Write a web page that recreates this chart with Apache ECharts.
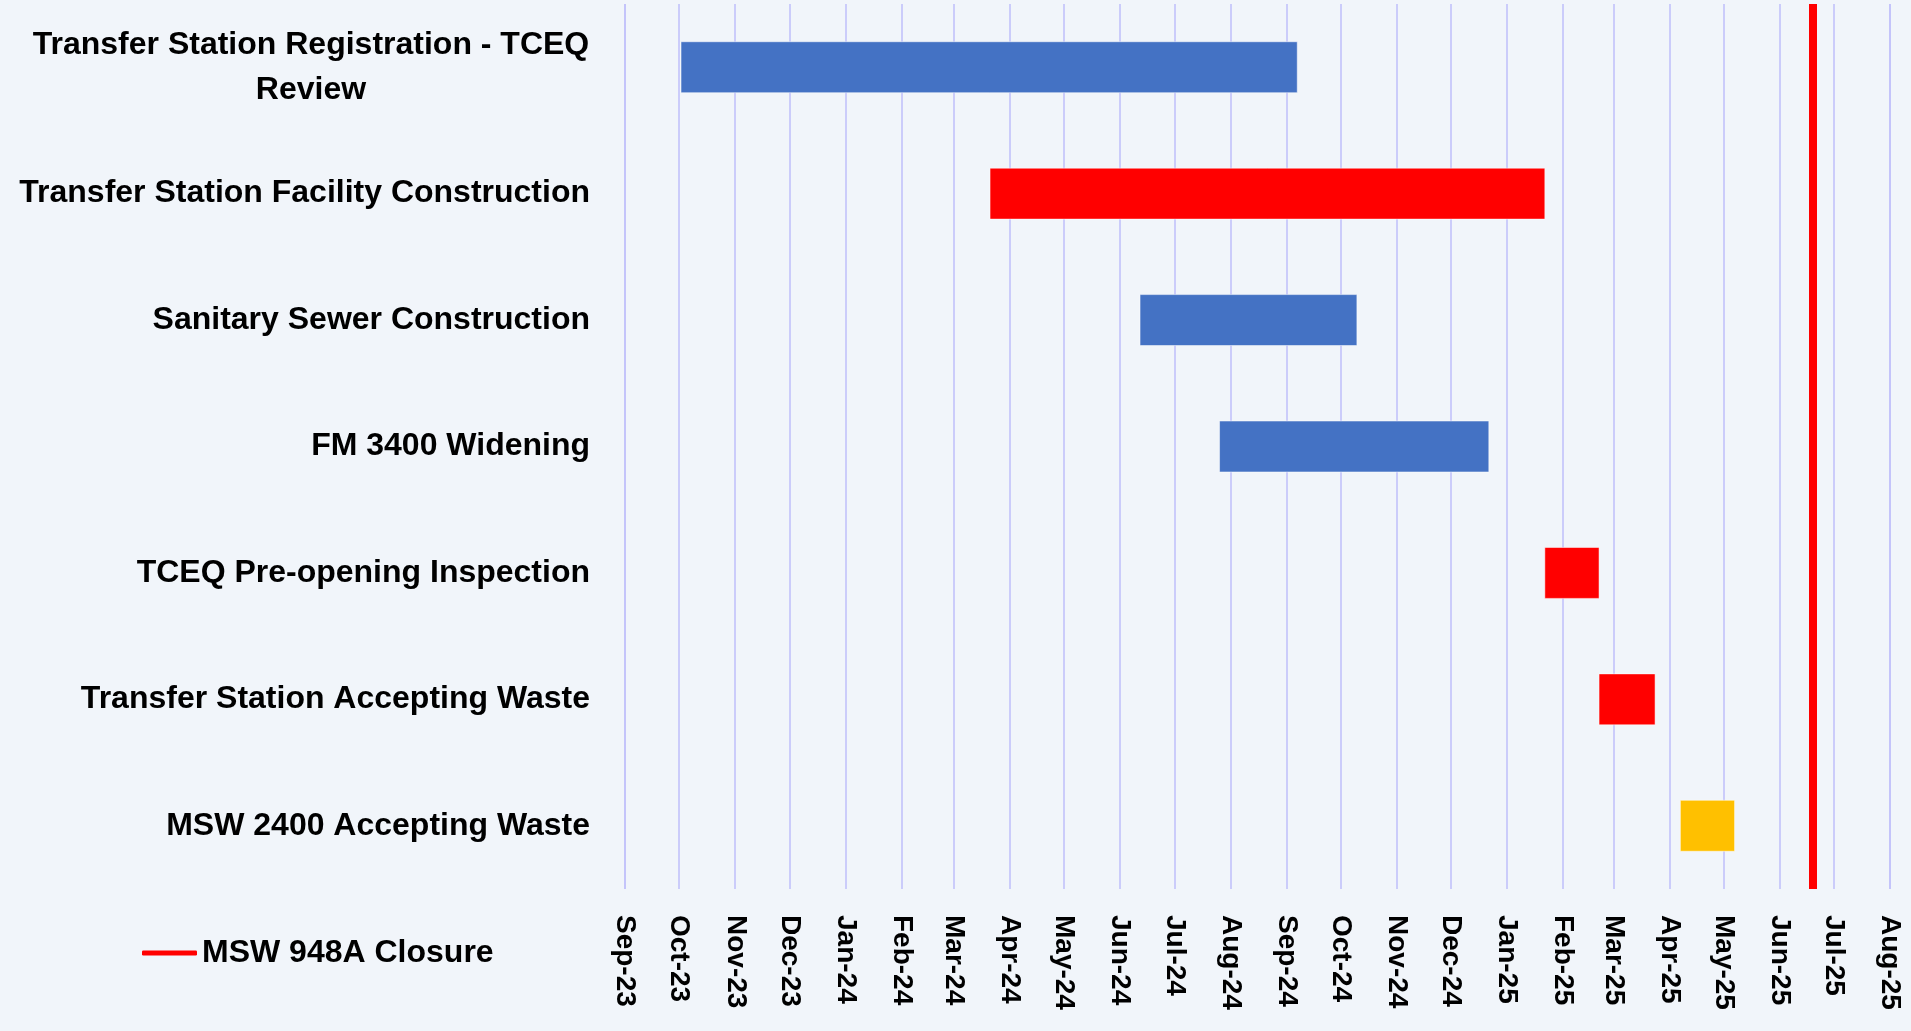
<!DOCTYPE html>
<html>
<head>
<meta charset="utf-8">
<script src="https://cdn.jsdelivr.net/npm/echarts@6/dist/echarts.min.js"></script>
<style>
  html, body { margin: 0; padding: 0; background: #F1F5FA; }
  #chart { width: 1911px; height: 1031px; }
</style>
</head>
<body>
<div id="chart"></div>
<script>
// tasks, top to bottom
const tasks = [
  'Transfer Station Registration - TCEQ\nReview',
  'Transfer Station Facility Construction',
  'Sanitary Sewer Construction',
  'FM 3400 Widening',
  'TCEQ Pre-opening Inspection',
  'Transfer Station Accepting Waste',
  'MSW 2400 Accepting Waste'
];
const startDates = ['2023-10-02', '2024-03-21', '2024-06-12', '2024-07-26', '2025-01-22', '2025-02-21', '2025-04-07'];
const endDates   = ['2024-09-07', '2025-01-22', '2024-10-10', '2024-12-22', '2025-02-21', '2025-03-24', '2025-05-07'];
const taskColors = ['#4472C4', '#FF0000', '#4472C4', '#4472C4', '#FF0000', '#FF0000', '#FFC000'];

const closureName = 'MSW 948A Closure';
const closureDate = '2025-06-19';

const axisStart = '2023-09-01';
const axisEnd = '2025-08-01';

const FONT = '"Liberation Sans", Arial, sans-serif';

// local midnight, same as echarts parses yyyy-mm-dd
function day(s) {
  const p = s.split('-').map(Number);
  return new Date(p[0], p[1] - 1, p[2]).getTime();
}

const ganttData = tasks.map((t, i) => [i, day(startDates[i]), day(endDates[i])]);

const chart = echarts.init(document.getElementById('chart'));

chart.setOption({
  backgroundColor: '#F1F5FA',
  animation: false,
  grid: {
    left: 625, right: 21, top: 4, bottom: 142,
    containLabel: false,
    outerBoundsMode: 'none'
  },
  legend: {
    left: 137, top: 932,
    itemWidth: 55, itemHeight: 5,
    data: [{ name: closureName, icon: 'roundRect' }],
    textStyle: { fontFamily: FONT, fontSize: 32, fontWeight: 'bold', color: '#000' }
  },
  xAxis: {
    type: 'time',
    min: day(axisStart),
    max: day(axisEnd),
    splitNumber: 24,
    axisLine: { show: false },
    axisTick: { show: false },
    splitLine: { show: true, lineStyle: { color: '#C2C2FA', width: 1.6 } },
    axisLabel: {
      rotate: -90,
      margin: 26,
      formatter: '{MMM}-{yy}',
      fontFamily: FONT, fontSize: 28, fontWeight: 'bold', color: '#000',
      showMinLabel: true, showMaxLabel: true
    }
  },
  yAxis: {
    type: 'category',
    inverse: true,
    data: tasks,
    axisLine: { show: false },
    axisTick: { show: false },
    splitLine: { show: false },
    axisLabel: {
      margin: 35,
      fontFamily: FONT, fontSize: 32, fontWeight: 'bold', color: '#000',
      formatter: function (v) {
        const lines = v.split('\n');
        if (lines.length > 1) return lines.map(l => '{w|' + l + '}').join('\n');
        return v;
      },
      rich: {
        w: { width: 558, align: 'center', fontFamily: FONT, fontSize: 32, fontWeight: 'bold', color: '#000', lineHeight: 45 }
      }
    }
  },
  series: [
    {
      type: 'custom',
      name: 'Tasks',
      data: ganttData,
      encode: { x: [1, 2], y: 0 },
      renderItem: function (params, api) {
        const cat = api.value(0);
        const s = api.coord([api.value(1), cat]);
        const e = api.coord([api.value(2), cat]);
        const h = api.size([0, 1])[1] * 0.403;
        return {
          type: 'rect',
          shape: { x: s[0], y: s[1] - h / 2, width: e[0] - s[0], height: h },
          style: { fill: taskColors[params.dataIndex], stroke: 'rgba(255,255,255,0.5)', lineWidth: 1 }
        };
      }
    },
    {
      type: 'line',
      name: closureName,
      data: [],
      symbol: 'none',
      color: '#FF0000',
      lineStyle: { color: '#FF0000', width: 5 },
      markLine: {
        silent: true,
        symbol: 'none',
        label: { show: false },
        lineStyle: { color: '#FF0000', width: 8, type: 'solid' },
        data: [{ xAxis: day(closureDate) }]
      }
    }
  ]
});
</script>
</body>
</html>
